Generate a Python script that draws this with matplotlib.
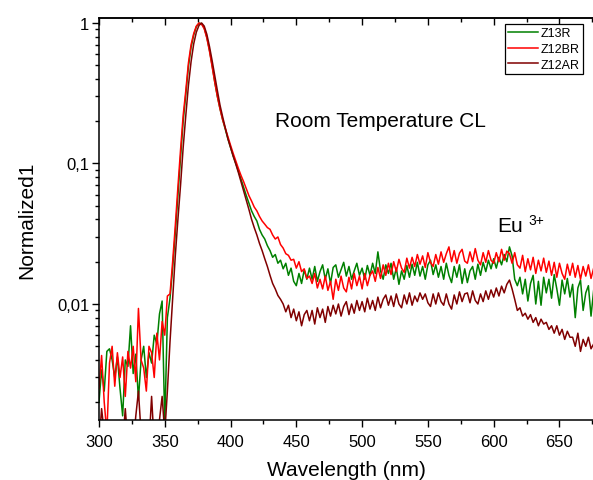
import numpy as np
import matplotlib
matplotlib.use("Agg")
import matplotlib.pyplot as plt
from matplotlib.ticker import MultipleLocator, FixedLocator, FixedFormatter, LogLocator, NullFormatter

plt.rcParams['font.family'] = ['Liberation Sans', 'DejaVu Sans']

# wavelength grid (nm), 2 nm steps
wavelength = np.arange(300, 677, 2)

z13r = [
    0.0020, 0.0034, 0.0024, 0.0046, 0.0048, 0.0040, 0.0030, 0.0042, 0.0025, 0.0016,
    0.0040, 0.0036, 0.0070, 0.0032, 0.0044, 0.0021, 0.0040, 0.0050, 0.0030, 0.0045,
    0.0038, 0.0060, 0.0052, 0.0085, 0.0105, 0.0014, 0.0080, 0.0110, 0.018, 0.032,
    0.060, 0.11, 0.20, 0.31, 0.49, 0.67, 0.82, 0.94, 0.995, 0.99,
    0.92, 0.79, 0.64, 0.50, 0.38, 0.30, 0.245, 0.205, 0.175, 0.150,
    0.130, 0.113, 0.100, 0.088, 0.077, 0.067, 0.059, 0.052, 0.046, 0.042,
    0.039, 0.034, 0.031, 0.029, 0.026, 0.0240, 0.0215, 0.0225, 0.0195, 0.0205,
    0.0178, 0.0195, 0.0160, 0.0180, 0.0145, 0.0135, 0.0165, 0.0140, 0.0175, 0.0150,
    0.0180, 0.0150, 0.0185, 0.0145, 0.0170, 0.0190, 0.0150, 0.0178, 0.0140, 0.0182,
    0.0190, 0.0155, 0.0175, 0.0198, 0.0158, 0.0185, 0.0150, 0.0172, 0.0195, 0.0160,
    0.0180, 0.0150, 0.0188, 0.0160, 0.0195, 0.0165, 0.0235, 0.0172, 0.0150, 0.0190,
    0.0165, 0.0195, 0.0150, 0.0180, 0.0138, 0.0172, 0.0150, 0.0188, 0.0155, 0.0192,
    0.0160, 0.0198, 0.0158, 0.0185, 0.0150, 0.0190, 0.0205, 0.0162, 0.0190, 0.0155,
    0.0185, 0.0150, 0.0195, 0.0160, 0.0142, 0.0185, 0.0155, 0.0190, 0.0140, 0.0178,
    0.0142, 0.0172, 0.0185, 0.0150, 0.0192, 0.0160, 0.0198, 0.0170, 0.0205, 0.0178,
    0.0210, 0.0180, 0.0215, 0.0190, 0.0225, 0.0200, 0.0255, 0.0220, 0.0150, 0.0135,
    0.0155, 0.0118, 0.0150, 0.0105, 0.0140, 0.0160, 0.0100, 0.0145, 0.0098, 0.0155,
    0.0120, 0.0150, 0.0110, 0.0162, 0.0128, 0.0098, 0.0148, 0.0118, 0.0152, 0.0112,
    0.0138, 0.0080, 0.0130, 0.0148, 0.0090, 0.0120, 0.0135, 0.0082, 0.0125,
]

z12br = [
    0.0025, 0.0043, 0.0020, 0.0012, 0.0038, 0.0050, 0.0026, 0.0045, 0.0030, 0.0042,
    0.0022, 0.0046, 0.0035, 0.0050, 0.0028, 0.0093, 0.0040, 0.0035, 0.0024, 0.0050,
    0.0045, 0.0030, 0.0062, 0.0040, 0.0075, 0.0060, 0.0114, 0.0118, 0.020, 0.036,
    0.068, 0.125, 0.22, 0.33, 0.52, 0.70, 0.84, 0.95, 1.0, 0.98,
    0.91, 0.78, 0.63, 0.49, 0.38, 0.30, 0.245, 0.205, 0.178, 0.155,
    0.135, 0.118, 0.104, 0.092, 0.082, 0.074, 0.066, 0.059, 0.054, 0.049,
    0.046, 0.042, 0.039, 0.037, 0.035, 0.034, 0.031, 0.029, 0.0300, 0.0265,
    0.0250, 0.0228, 0.0222, 0.0205, 0.0208, 0.0180, 0.0200, 0.0170, 0.0178, 0.0152,
    0.0158, 0.0140, 0.0165, 0.0130, 0.0150, 0.0128, 0.0158, 0.0125, 0.0145, 0.0108,
    0.0150, 0.0125, 0.0158, 0.0130, 0.0122, 0.0155, 0.0128, 0.0165, 0.0135, 0.0158,
    0.0128, 0.0165, 0.0135, 0.0160, 0.0172, 0.0145, 0.0182, 0.0152, 0.0190, 0.0160,
    0.0195, 0.0162, 0.0200, 0.0170, 0.0208, 0.0180, 0.0168, 0.0212, 0.0180, 0.0215,
    0.0185, 0.0225, 0.0192, 0.0220, 0.0182, 0.0232, 0.0198, 0.0185, 0.0225, 0.0192,
    0.0235, 0.0198, 0.0228, 0.0255, 0.0200, 0.0240, 0.0195, 0.0230, 0.0245, 0.0202,
    0.0195, 0.0235, 0.0200, 0.0248, 0.0205, 0.0190, 0.0232, 0.0198, 0.0240, 0.0205,
    0.0195, 0.0232, 0.0200, 0.0245, 0.0205, 0.0238, 0.0228, 0.0195, 0.0232, 0.0190,
    0.0180, 0.0222, 0.0170, 0.0210, 0.0175, 0.0215, 0.0165, 0.0205, 0.0172, 0.0212,
    0.0168, 0.0202, 0.0160, 0.0198, 0.0155, 0.0195, 0.0165, 0.0150, 0.0192, 0.0160,
    0.0195, 0.0155, 0.0188, 0.0150, 0.0185, 0.0158, 0.0190, 0.0152, 0.0180,
]

z12ar = [
    0.0010, 0.0018, 0.0012, 0.0010, 0.0010, 0.0010, 0.0010, 0.0012, 0.0010, 0.0010,
    0.0018, 0.0010, 0.0010, 0.0010, 0.0016, 0.0024, 0.0012, 0.0010, 0.0010, 0.0010,
    0.0022, 0.0010, 0.0010, 0.0015, 0.0022, 0.0012, 0.0024, 0.0054, 0.011, 0.022,
    0.040, 0.070, 0.13, 0.22, 0.36, 0.53, 0.71, 0.86, 0.96, 1.0,
    0.95, 0.83, 0.68, 0.54, 0.42, 0.33, 0.26, 0.215, 0.180, 0.150,
    0.130, 0.113, 0.099, 0.086, 0.074, 0.064, 0.055, 0.047, 0.040, 0.035,
    0.031, 0.027, 0.024, 0.021, 0.0185, 0.0160, 0.0140, 0.0128, 0.0115, 0.0108,
    0.0100, 0.0088, 0.0098, 0.0080, 0.0092, 0.0076, 0.0088, 0.0070, 0.0084, 0.0090,
    0.0076, 0.0090, 0.0072, 0.0094, 0.0080, 0.0092, 0.0074, 0.0096, 0.0082, 0.0098,
    0.0085, 0.0100, 0.0082, 0.0096, 0.0104, 0.0084, 0.0100, 0.0086, 0.0106, 0.0090,
    0.0104, 0.0088, 0.0110, 0.0092, 0.0106, 0.0090, 0.0112, 0.0094, 0.0108, 0.0116,
    0.0098, 0.0114, 0.0096, 0.0118, 0.0100, 0.0094, 0.0116, 0.0100, 0.0120, 0.0098,
    0.0114, 0.0104, 0.0120, 0.0108, 0.0118, 0.0102, 0.0096, 0.0118, 0.0100, 0.0120,
    0.0104, 0.0098, 0.0118, 0.0100, 0.0092, 0.0116, 0.0100, 0.0122, 0.0104, 0.0118,
    0.0120, 0.0102, 0.0124, 0.0106, 0.0100, 0.0118, 0.0104, 0.0124, 0.0108, 0.0126,
    0.0112, 0.0130, 0.0114, 0.0134, 0.0120, 0.0138, 0.0148, 0.0128, 0.0108, 0.0090,
    0.0094, 0.0082, 0.0086, 0.0078, 0.0084, 0.0074, 0.0080, 0.0070, 0.0078, 0.0072,
    0.0074, 0.0066, 0.0070, 0.0062, 0.0070, 0.0060, 0.0066, 0.0056, 0.0064, 0.0058,
    0.0058, 0.0050, 0.0062, 0.0046, 0.0056, 0.0050, 0.0058, 0.0048, 0.0052,
]

series = [("Z13R", z13r, "#008000"), ("Z12BR", z12br, "#ff0000"), ("Z12AR", z12ar, "#800000")]

y_ticks = [0.01, 0.1, 1]
y_labels = ["0,01", "0,1", "1"]

fig = plt.figure(figsize=(5.93, 4.81), dpi=100)
ax = fig.add_axes([0.1669, 0.1247, 0.8331, 0.8358])

for name, vals, col in series:
    ax.plot(wavelength, vals, color=col, lw=1.1, label=name)

ax.set_yscale('log')
ax.set_xlim(300, 675.5)
ax.set_ylim(0.001494, 1.085)

ax.xaxis.set_major_locator(MultipleLocator(50))
ax.xaxis.set_minor_locator(MultipleLocator(25))
ax.yaxis.set_major_locator(FixedLocator(y_ticks))
ax.yaxis.set_major_formatter(FixedFormatter(y_labels))
ax.yaxis.set_minor_locator(LogLocator(base=10, subs=np.arange(2, 10)))
ax.yaxis.set_minor_formatter(NullFormatter())

ax.tick_params(which='both', direction='out', width=1, labelsize=12, colors='black')
ax.tick_params(which='major', length=5)
ax.tick_params(which='minor', length=3)
ax.tick_params(axis='x', pad=5)
ax.tick_params(axis='y', pad=2)

ax.spines['right'].set_visible(False)
for s in ['left', 'bottom', 'top']:
    ax.spines[s].set_linewidth(1.1)

# top axis: ticks pointing inward, no labels
top = ax.secondary_xaxis('top')
top.xaxis.set_major_locator(MultipleLocator(50))
top.xaxis.set_minor_locator(MultipleLocator(25))
top.tick_params(which='both', direction='in', width=1, labeltop=False)
top.tick_params(which='major', length=5)
top.tick_params(which='minor', length=3)
top.spines['top'].set_linewidth(1.1)

ax.set_xlabel("Wavelength (nm)", fontsize=15, labelpad=8)
ax.set_ylabel("Normalized1", fontsize=15, labelpad=15)

ax.text(433.6, 0.186, "Room Temperature CL", fontsize=15, va='baseline', ha='left')
ax.text(603, 0.0331, "Eu", fontsize=15, va='baseline', ha='left')
ax.text(626.5, 0.0371, "3+", fontsize=10, va='baseline', ha='left')

leg = ax.legend(loc='upper right', bbox_to_anchor=(583 / 593, 1 - 25 / 481),
                bbox_transform=fig.transFigure, fontsize=9, frameon=True, fancybox=False,
                edgecolor='black', framealpha=1, borderpad=0.25, labelspacing=0.3,
                handlelength=2.4, handletextpad=0.25, borderaxespad=0)
leg.get_frame().set_linewidth(0.9)

fig.savefig("out.png", dpi=100)
